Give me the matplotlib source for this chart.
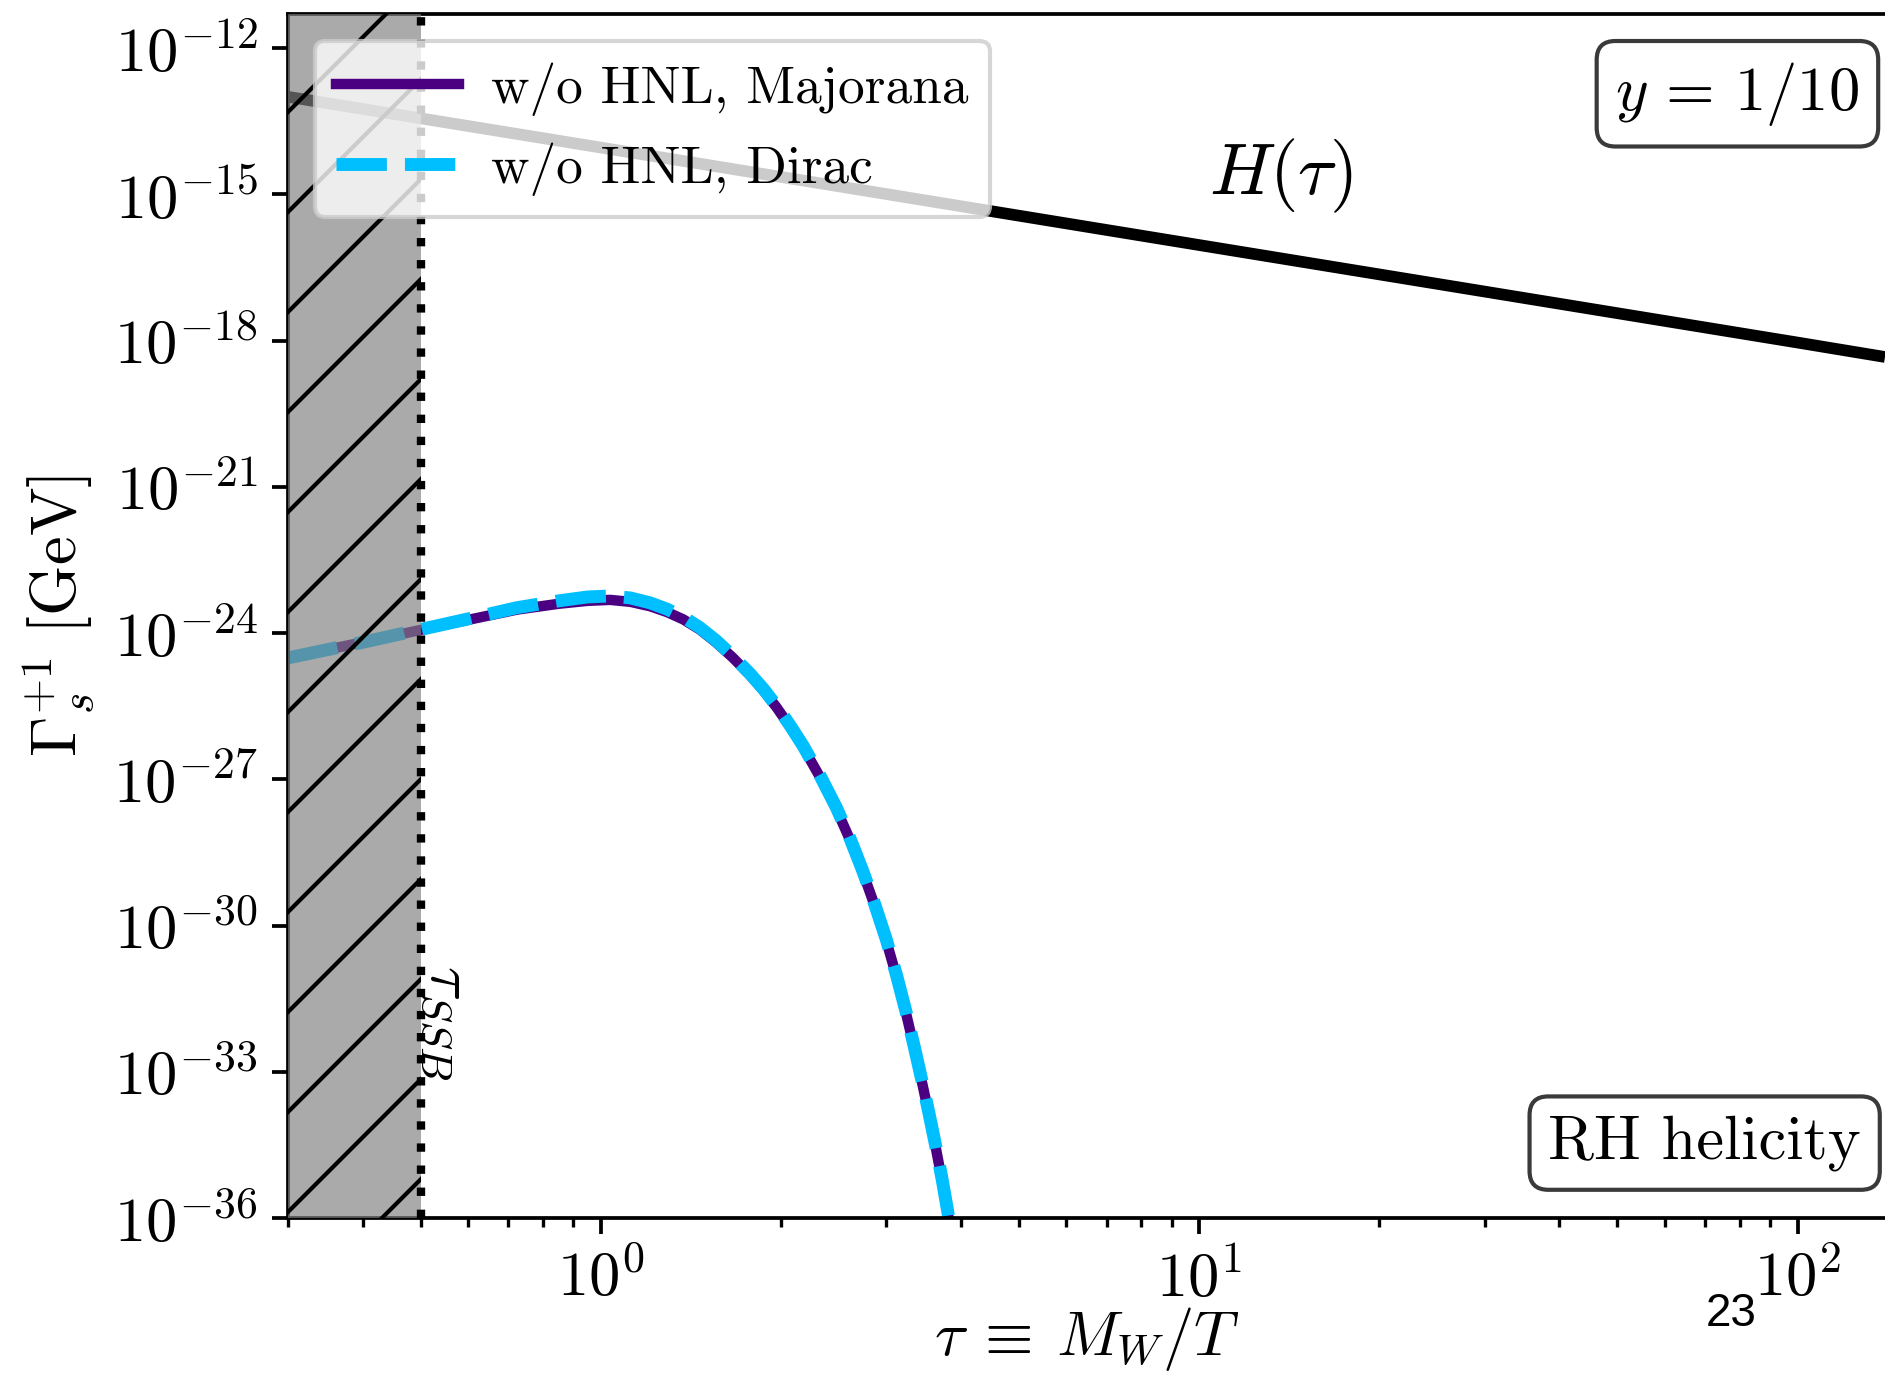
import matplotlib
matplotlib.use("Agg")
import matplotlib.pyplot as plt
from matplotlib.ticker import FixedLocator, NullLocator, LogLocator, NullFormatter
import numpy as np

plt.rcParams['mathtext.fontset'] = 'cm'
plt.rcParams['font.family'] = ['DejaVu Serif']

# ---------------- data ----------------
tau_gamma = [0.30, 0.40, 0.507, 0.60, 0.724, 0.85, 0.95, 1.036, 1.12, 1.208,
             1.29, 1.373, 1.464, 1.56, 1.66, 1.774, 1.87, 1.965, 2.07, 2.177,
             2.33, 2.475, 2.61, 2.742, 2.87, 3.0, 3.12, 3.236, 3.345, 3.45,
             3.54, 3.63, 3.72, 3.80, 3.88]
log_gamma_majorana = [-24.51, -24.19, -23.92, -23.73, -23.52, -23.40, -23.34, -23.32, -23.36, -23.45,
                      -23.57, -23.72, -23.93, -24.20, -24.50, -24.86, -25.18, -25.52, -25.92, -26.34,
                      -26.98, -27.61, -28.25, -28.92, -29.60, -30.32, -31.05, -31.80, -32.55, -33.28,
                      -33.92, -34.57, -35.25, -35.90, -36.55]
log_gamma_dirac = [-24.51, -24.19, -23.91, -23.71, -23.48, -23.34, -23.26, -23.24, -23.28, -23.38,
                   -23.51, -23.67, -23.89, -24.16, -24.47, -24.83, -25.15, -25.49, -25.89, -26.31,
                   -26.95, -27.58, -28.22, -28.89, -29.57, -30.29, -31.02, -31.77, -32.52, -33.25,
                   -33.89, -34.54, -35.22, -35.87, -36.52]

tau_H = [0.3, 1.0, 10.0, 100.0, 140.0]
H_values = [1.0e-13, 9.1e-15, 9.1e-17, 9.1e-19, 4.6e-19]

tau_ssb = 0.5
xlim = (0.3, 140.0)
ylim = (1e-36, 5e-12)

yticks = [1e-36, 1e-33, 1e-30, 1e-27, 1e-24, 1e-21, 1e-18, 1e-15, 1e-12]
ytick_labels = [r'$10^{-36}$', r'$10^{-33}$', r'$10^{-30}$', r'$10^{-27}$', r'$10^{-24}$',
                r'$10^{-21}$', r'$10^{-18}$', r'$10^{-15}$', r'$10^{-12}$']
xticks = [1.0, 10.0, 100.0]
xtick_labels = [r'$10^{0}$', r'$10^{1}$', r'$10^{2}$']

labels = ['w/o HNL, Majorana', 'w/o HNL, Dirac']

CM = ['cmr10', 'DejaVu Serif']

# ---------------- figure ----------------
W, Hpx = 1885, 1383
dpi = 300
fig = plt.figure(figsize=(W / dpi, Hpx / dpi), dpi=dpi)
ax = fig.add_axes([288 / W, 1 - 1218 / Hpx, 1 - 288 / W, (1218 - 14) / Hpx])

g_maj = 10.0 ** np.array(log_gamma_majorana)
g_dir = 10.0 ** np.array(log_gamma_dirac)

ax.plot(tau_H, H_values, color='black', lw=2.8, zorder=2, solid_capstyle='butt')
ax.plot(tau_gamma, g_maj, color='#4B0082', lw=2.5, ls='-', label=labels[0], zorder=2)
ax.plot(tau_gamma, g_dir, color='#00BFFF', lw=3.1, ls=(0, (3.9, 1.4)), label=labels[1], zorder=2.1)

# shaded pre-SSB region
ax.axvspan(xlim[0], tau_ssb, facecolor='#808080', alpha=0.67, lw=0, zorder=3)
ax.axvspan(xlim[0], tau_ssb, facecolor='none', edgecolor='black', hatch='/', lw=0, zorder=3.1)
ax.axvline(tau_ssb, color='black', ls=':', lw=2.0, zorder=3.2)

ax.set_xscale('log')
ax.set_yscale('log')
ax.set_xlim(*xlim)
ax.set_ylim(*ylim)

ax.yaxis.set_major_locator(FixedLocator(yticks))
ax.set_yticklabels(ytick_labels)
ax.yaxis.set_minor_locator(NullLocator())
ax.xaxis.set_major_locator(FixedLocator(xticks))
ax.set_xticklabels(xtick_labels)
ax.xaxis.set_minor_locator(LogLocator(base=10, subs=np.arange(2, 10)))
ax.xaxis.set_minor_formatter(NullFormatter())

ax.tick_params(axis='both', which='major', labelsize=15, length=3.8, width=0.9)
ax.tick_params(axis='x', which='minor', length=2.2, width=0.8)
for s in ax.spines.values():
    s.set_linewidth(0.9)
ax.spines['right'].set_visible(False)

ax.set_xlabel(r'$\tau \:\equiv\: M_W/T$', fontsize=15, labelpad=-1)
ax.set_ylabel(r'$\Gamma_s^{+1}\ [\mathrm{GeV}]$', fontsize=15.5, labelpad=4)

# annotations
ax.text(13.7, 2.4e-15, r'$H(\tau)$', fontsize=17.5, ha='center', va='center')
ax.text(0.557, 1e-32, r'$\tau_{SSB}$', fontsize=15, rotation=-90, ha='center', va='center')

box = dict(boxstyle='round,pad=0.3', facecolor='white', edgecolor='#3a3a3a', lw=1.0)
ax.text(0.984, 0.962, r'$y\,=\,1/10$', transform=ax.transAxes, fontsize=15,
        ha='right', va='top', bbox=box, zorder=6)
ax.text(0.985, 0.039, 'RH helicity', transform=ax.transAxes, fontsize=15, family=CM,
        ha='right', va='bottom', bbox=box, zorder=6)

leg = ax.legend(loc='upper left', prop={'family': CM, 'size': 12.8}, handlelength=2.3,
                handletextpad=0.6, framealpha=0.8, borderaxespad=0.5)
leg.set_zorder(10)

fig.text(1731 / W, 1 - 1314 / Hpx, '23', ha='center', va='center',
         fontsize=11, family=['Liberation Sans', 'DejaVu Sans'])

fig.savefig('out.png', dpi=dpi)
